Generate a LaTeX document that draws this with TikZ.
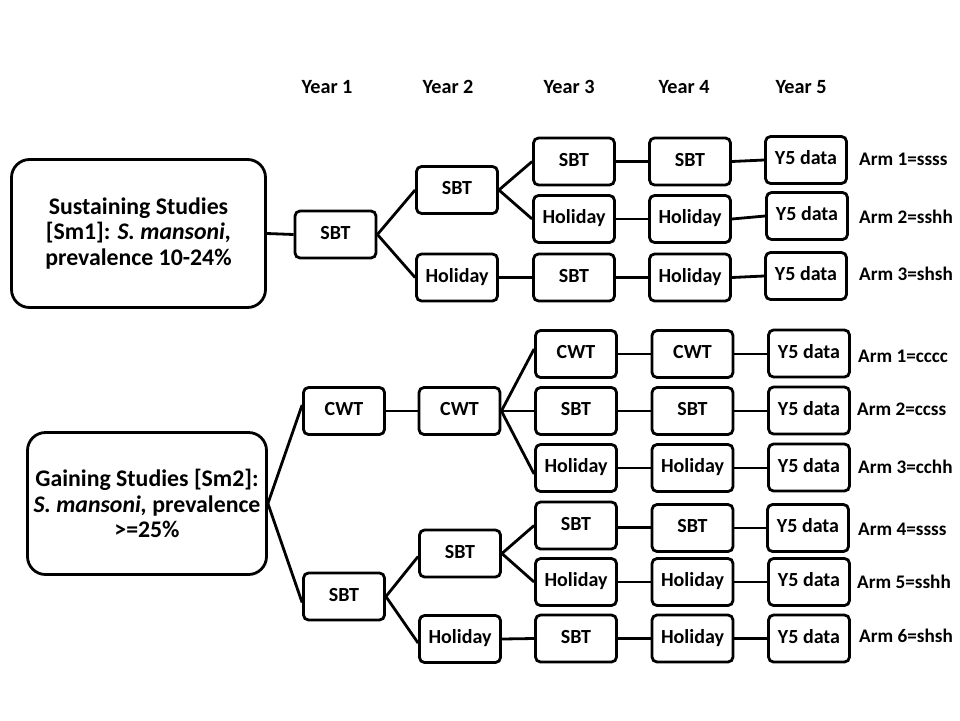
\documentclass[tikz,border=0pt]{standalone}
\usepackage{fontspec}
\setmainfont{Carlito}
\begin{document}
\begin{tikzpicture}[x=1pt,y=-1pt,
  box/.style={draw,line width=2.8pt,rounded corners=5pt,minimum width=81pt,minimum height=47pt,inner sep=0pt,text height=13pt,text depth=4pt,font=\bfseries\fontsize{20}{24}\selectfont},
  big/.style={draw,line width=2.8pt,rounded corners=18pt,inner sep=0pt,align=center,font=\bfseries\fontsize{23.8}{25.5}\selectfont},
  yr/.style={font=\bfseries\fontsize{20.2}{24}\selectfont},
  arm/.style={anchor=west,inner sep=0pt,font=\bfseries\fontsize{19.2}{22}\selectfont},
  conn/.style={line width=2.8pt}]
\useasboundingbox (0,0) rectangle (960,720);
% year labels
\node[yr] (y1) at (327,87) {Year 1};
\node[yr] (y2) at (448,87) {Year 2};
\node[yr] (y3) at (569,87) {Year 3};
\node[yr] (y4) at (684,87) {Year 4};
\node[yr] (y5) at (801,87) {Year 5};
% top section
\node[big,minimum width=254pt,minimum height=148pt] (B1) at (138.5,233.5) {Sustaining Studies\\{}[Sm1]: \textit{S. mansoni,}\\prevalence 10-24\%};
\node[box] (T1) at (335.5,234.5) {SBT};
\node[box] (T2a) at (457,190) {SBT};
\node[box] (T2b) at (457,277.5) {Holiday};
\node[box] (T3a) at (574,161.5) {SBT};
\node[box] (T3b) at (574,219) {Holiday};
\node[box] (T3c) at (574,277.5) {SBT};
\node[box] (T4a) at (690,161.5) {SBT};
\node[box] (T4b) at (690,219) {Holiday};
\node[box] (T4c) at (690,277.5) {Holiday};
\node[box] (T5a) at (806,160) {Y5 data};
\node[box] (T5b) at (807,216) {Y5 data};
\node[box] (T5c) at (806,276) {Y5 data};
\node[arm] (A1) at (859,159) {Arm 1=ssss};
\node[arm] (A2) at (859,217) {Arm 2=sshh};
\node[arm] (A3) at (859,274) {Arm 3=shsh};
\draw[conn] (B1.east) -- (T1.west);
\draw[conn] (T1.east) -- (T2a.west);
\draw[conn] (T1.east) -- (T2b.west);
\draw[conn] (T2a.east) -- (T3a.west);
\draw[conn] (T2a.east) -- (T3b.west);
\draw[conn] (T2b.east) -- (T3c.west);
\draw[conn] (T3a.east) -- (T4a.west);
\draw[conn] (T3b.east) -- (T4b.west);
\draw[conn] (T3c.east) -- (T4c.west);
\draw[conn] (T4a.east) -- (T5a.west);
\draw[conn] (T4b.east) -- (T5b.west);
\draw[conn] (T4c.east) -- (T5c.west);
% bottom section
\node[big,minimum width=239pt,minimum height=142pt] (B2) at (147,503.5) {Gaining Studies [Sm2]:\\\textit{S. mansoni,} prevalence\\>=25\%};
\node[box] (G1a) at (344,411) {CWT};
\node[box] (G1b) at (344,596.5) {SBT};
\node[box] (G2a) at (459.5,411) {CWT};
\node[box] (G2b) at (460,553.5) {SBT};
\node[box] (G2c) at (460,639) {Holiday};
\node[box] (G3a) at (576,354) {CWT};
\node[box] (G3b) at (576,411) {SBT};
\node[box] (G3c) at (576,468) {Holiday};
\node[box] (G3d) at (576,525.5) {SBT};
\node[box] (G3e) at (576,582) {Holiday};
\node[box] (G3f) at (576,638.5) {SBT};
\node[box] (G4a) at (692.5,354) {CWT};
\node[box] (G4b) at (692.5,411) {SBT};
\node[box] (G4c) at (692.5,468) {Holiday};
\node[box] (G4d) at (692.5,528) {SBT};
\node[box] (G4e) at (692.5,582) {Holiday};
\node[box] (G4f) at (692.5,638.5) {Holiday};
\node[box] (G5a) at (809,353.5) {Y5 data};
\node[box] (G5b) at (809,410.5) {Y5 data};
\node[box] (G5c) at (809,467.5) {Y5 data};
\node[box] (G5d) at (808,528) {Y5 data};
\node[box] (G5e) at (809,582) {Y5 data};
\node[box] (G5f) at (809,638.5) {Y5 data};
\node[arm] (C1) at (858,356) {Arm 1=cccc};
\node[arm] (C2) at (857,409) {Arm 2=ccss};
\node[arm] (C3) at (858,467) {Arm 3=cchh};
\node[arm] (C4) at (858,529) {Arm 4=ssss};
\node[arm] (C5) at (857,582) {Arm 5=sshh};
\node[arm] (C6) at (859,636) {Arm 6=shsh};
\draw[conn] (B2.east) -- ([yshift=6pt]G1a.west);
\draw[conn] (B2.east) -- ([yshift=-6pt]G1b.west);
\draw[conn] (G1a.east) -- (G2a.west);
\draw[conn] (G1b.east) -- ([yshift=-3pt]G2b.west);
\draw[conn] (G1b.east) -- ([yshift=-4pt]G2c.west);
\draw[conn] (G2a.east) -- ([yshift=5pt]G3a.west);
\draw[conn] (G2a.east) -- (G3b.west);
\draw[conn] (G2a.east) -- ([yshift=-6pt]G3c.west);
\draw[conn] (G2b.east) -- (G3d.west);
\draw[conn] (G2b.east) -- (G3e.west);
\draw[conn] (G2c.east) -- (G3f.west);
\draw[conn] (G3a.east) -- (G3a.east -| G4a.west);
\draw[conn] (G3b.east) -- (G3b.east -| G4b.west);
\draw[conn] (G3c.east) -- (G3c.east -| G4c.west);
\draw[conn] ([yshift=-2pt]G3d.east) -- ([yshift=-2pt]G3d.east -| G4d.west);
\draw[conn] (G3e.east) -- (G3e.east -| G4e.west);
\draw[conn] (G3f.east) -- (G3f.east -| G4f.west);
\draw[conn] (G4a.east) -- (G4a.east -| G5a.west);
\draw[conn] (G4b.east) -- (G4b.east -| G5b.west);
\draw[conn] (G4c.east) -- (G4c.east -| G5c.west);
\draw[conn] (G4d.east) -- (G4d.east -| G5d.west);
\draw[conn] (G4e.east) -- (G4e.east -| G5e.west);
\draw[conn] (G4f.east) -- (G4f.east -| G5f.west);
\end{tikzpicture}
\end{document}
